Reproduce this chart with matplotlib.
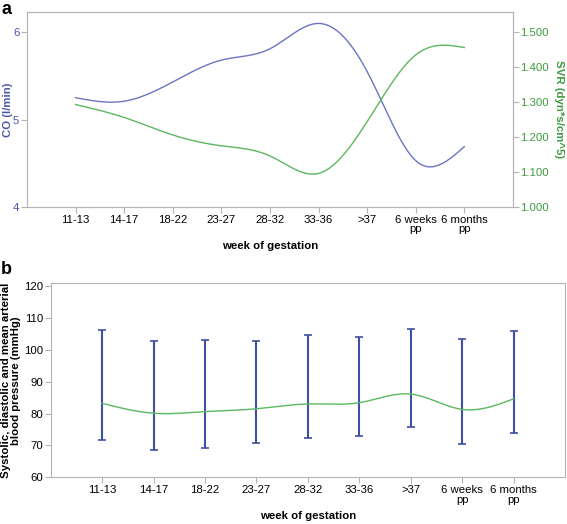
import numpy as np
import matplotlib
matplotlib.use('Agg')
import matplotlib.pyplot as plt

plt.rcParams['font.family'] = ['Liberation Sans', 'DejaVu Sans']

# data
weeks = ['11-13', '14-17', '18-22', '23-27', '28-32', '33-36', '>37',
         '6 weeks\npp', '6 months\npp']
co = [5.25, 5.21, 5.43, 5.68, 5.81, 6.10, 5.55, 4.53, 4.69]
svr = [1.293, 1.256, 1.206, 1.175, 1.146, 1.096, 1.244, 1.435, 1.456]
systolic = [106.2, 102.9, 103.1, 102.8, 104.6, 104.1, 106.6, 103.3, 105.9]
diastolic = [71.7, 68.7, 69.2, 70.9, 72.2, 73.0, 75.9, 70.5, 74.0]
mean_ap = [83.2, 80.1, 80.6, 81.5, 83.0, 83.4, 86.1, 81.3, 84.6]

BLUE = '#6b74c4'
BAR_BLUE = '#3e4fa6'
BLUE_TXT = '#4a58a8'
GREEN = '#5cb860'
GREEN_TXT = '#3d9a40'
GRAY = '#b4b4b4'
FS = 8.2


def spline(y, n=30):
    # natural cubic spline through the points, for the smooth line
    y = np.asarray(y, float)
    k = len(y)
    A = np.zeros((k, k))
    b = np.zeros(k)
    A[0, 0] = A[-1, -1] = 1
    for i in range(1, k - 1):
        A[i, i - 1], A[i, i], A[i, i + 1] = 1, 4, 1
        b[i] = 6 * (y[i + 1] - 2 * y[i] + y[i - 1])
    m = np.linalg.solve(A, b)
    xs, ys = [], []
    for i in range(k - 1):
        t = np.linspace(0, 1, n, endpoint=(i == k - 2))
        c1 = y[i + 1] - y[i] - (2 * m[i] + m[i + 1]) / 6
        c2 = m[i] / 2
        c3 = (m[i + 1] - m[i]) / 6
        xs.append(i + t)
        ys.append(y[i] + c1 * t + c2 * t ** 2 + c3 * t ** 3)
    return np.concatenate(xs), np.concatenate(ys)


def style(ax):
    for s in ax.spines.values():
        s.set_color(GRAY)
    ax.tick_params(color=GRAY, length=4.5, labelsize=FS, pad=1)
    ax.set_xlim(-1, 9)
    ax.set_xticks(range(len(weeks)))
    ax.set_xticklabels(weeks, linespacing=0.95)


fig = plt.figure(figsize=(5.67, 5.24), dpi=100)

# panel a
ax1 = fig.add_axes([0.0476, 0.605, 0.857, 0.372])
style(ax1)
xs, ys = spline(co)
ax1.plot(xs, ys, color=BLUE, lw=1)
ax1.set_ylim(4, 6.23)
ax1.set_yticks([4, 5, 6])
ax1.tick_params(axis='y', labelcolor=BLUE_TXT)
ax1.set_ylabel('CO (l/min)', color=BLUE_TXT, fontweight='bold', fontsize=FS)
ax1.yaxis.set_label_coords(-0.029, 0.5)
ax1.set_xlabel('week of gestation', fontweight='bold', fontsize=FS, labelpad=5)

ax2 = ax1.twinx()
for s in ax2.spines.values():
    s.set_color(GRAY)
xs, ys = spline(svr)
ax2.plot(xs, ys, color=GREEN, lw=1)
ax2.set_ylim(1.0, 1.5575)
ax2.set_yticks([1.0, 1.1, 1.2, 1.3, 1.4, 1.5])
ax2.set_yticklabels(['%.3f' % v for v in [1.0, 1.1, 1.2, 1.3, 1.4, 1.5]])
ax2.tick_params(axis='y', color=GRAY, length=4.5, labelsize=FS, labelcolor=GREEN_TXT, pad=0.5)
ax2.set_ylabel('SVR (dyn*s/cm^5)', color=GREEN_TXT, fontweight='bold', fontsize=FS,
               rotation=270, labelpad=11)

fig.text(0.002, 0.999, 'a', fontsize=13, fontweight='bold', va='top')

# panel b
ax3 = fig.add_axes([0.0894, 0.0891, 0.9071, 0.3703])
style(ax3)
x = np.arange(len(weeks))
mid = (np.array(systolic) + np.array(diastolic)) / 2
half = (np.array(systolic) - np.array(diastolic)) / 2
ax3.errorbar(x, mid, yerr=half, fmt='none', ecolor=BAR_BLUE, elinewidth=1.5,
             capsize=2.8, capthick=1.2)
xs, ys = spline(mean_ap)
ax3.plot(xs, ys, color=GREEN, lw=1)
ax3.set_ylim(60, 120.85)
ax3.set_yticks(range(60, 121, 10))
ax3.set_ylabel('Systolic, diastolic and mean arterial\nblood pressure (mmHg)',
               fontweight='bold', fontsize=FS, linespacing=0.95)
ax3.yaxis.set_label_coords(-0.058, 0.5)
ax3.set_xlabel('week of gestation', fontweight='bold', fontsize=FS, labelpad=5)

fig.text(0.002, 0.502, 'b', fontsize=13, fontweight='bold', va='top')

fig.savefig('out.png', dpi=100)
